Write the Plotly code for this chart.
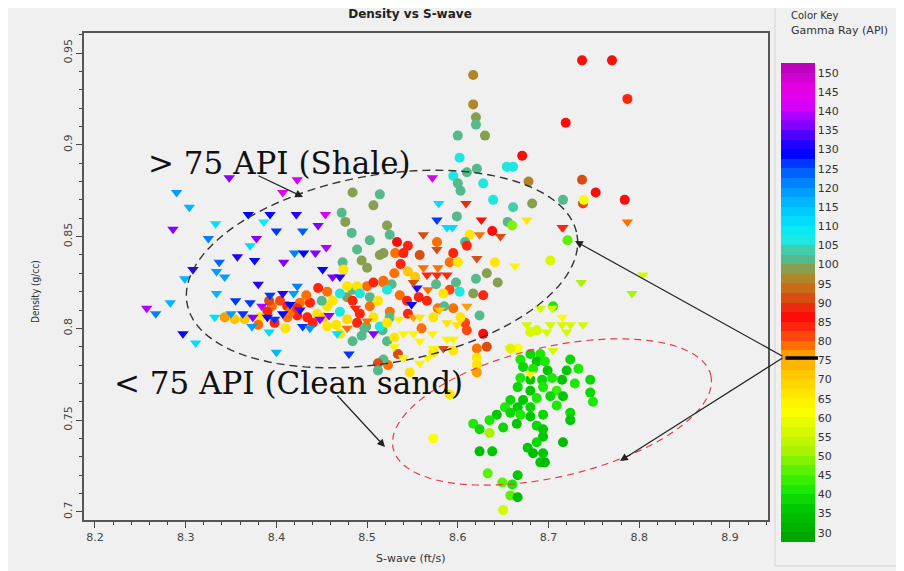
import numpy as np
import plotly.graph_objects as go

# ---------------- data (S-wave ft/s, Density g/cc, Gamma Ray API) ----------------
tri_x = [8.348, 8.423, 8.290, 8.407, 8.304, 8.369, 8.393, 8.422, 8.454, 8.333,
         8.386, 8.446, 8.286, 8.400, 8.429, 8.325, 8.378, 8.371, 8.455, 8.357,
         8.420, 8.430, 8.443, 8.376, 8.408, 8.337, 8.308, 8.334, 8.451, 8.343,
         8.299, 8.462, 8.470, 8.380, 8.423, 8.334, 8.283, 8.371, 8.393, 8.407,
         8.419, 8.257, 8.267, 8.332, 8.350, 8.374, 8.390, 8.297, 8.311, 8.400,
         8.480, 8.373, 8.407, 8.429, 8.448, 8.398, 8.467, 8.478, 8.507, 8.426,
         8.384, 8.363, 8.572, 8.579, 8.609, 8.577, 8.588, 8.594, 8.626, 8.676,
         8.715, 8.624, 8.562, 8.647, 8.577, 8.621, 8.562, 8.578, 8.566, 8.577,
         8.588, 8.663, 8.555, 8.551, 8.567, 8.549, 8.610, 8.580, 8.551, 8.558,
         8.599, 8.588, 8.572, 8.540, 8.551, 8.588, 8.595, 8.584, 8.573, 8.558,
         8.540, 8.567, 8.558, 8.691, 8.704, 8.715, 8.702, 8.715, 8.724, 8.676,
         8.738, 8.698, 8.720, 8.705, 8.658, 8.787, 8.716, 8.804, 8.792, 8.736,
         8.680, 8.415, 8.437, 8.458, 8.392, 8.355, 8.487, 8.500, 8.535, 8.530]
tri_y = [0.882, 0.881, 0.874, 0.874, 0.866, 0.862, 0.862, 0.862, 0.862, 0.857,
         0.858, 0.856, 0.854, 0.853, 0.853, 0.849, 0.849, 0.845, 0.844, 0.839,
         0.841, 0.841, 0.841, 0.837, 0.836, 0.836, 0.832, 0.831, 0.832, 0.828,
         0.827, 0.828, 0.828, 0.824, 0.823, 0.819, 0.814, 0.814, 0.818, 0.819,
         0.819, 0.811, 0.808, 0.806, 0.808, 0.806, 0.806, 0.797, 0.792, 0.787,
         0.786, 0.801, 0.808, 0.801, 0.805, 0.805, 0.797, 0.800, 0.797, 0.810,
         0.812, 0.808, 0.882, 0.868, 0.868, 0.859, 0.855, 0.855, 0.859, 0.859,
         0.855, 0.851, 0.851, 0.850, 0.843, 0.838, 0.833, 0.833, 0.829, 0.829,
         0.829, 0.834, 0.822, 0.825, 0.821, 0.813, 0.812, 0.810, 0.806, 0.806,
         0.802, 0.803, 0.797, 0.797, 0.797, 0.794, 0.794, 0.789, 0.789, 0.793,
         0.784, 0.784, 0.781, 0.811, 0.811, 0.806, 0.802, 0.802, 0.802, 0.802,
         0.802, 0.798, 0.798, 0.788, 0.789, 0.858, 0.855, 0.829, 0.819, 0.825,
         0.775, 0.813, 0.800, 0.807, 0.798, 0.815, 0.811, 0.804, 0.805, 0.790]
tri_gr = [137, 142, 118, 143, 117, 128, 128, 130, 140, 110,
          109, 137, 135, 125, 124, 122, 137, 110, 138, 130,
          122, 128, 135, 128, 136, 124, 130, 118, 128, 118,
          116, 135, 130, 130, 120, 117, 117, 125, 125, 130,
          118, 138, 122, 110, 118, 137, 128, 128, 110, 117,
          125, 118, 128, 126, 137, 125, 112, 78, 136, 130,
          138, 125, 142, 110, 88, 125, 110, 110, 85, 65,
          84, 78, 92, 92, 92, 92, 78, 78, 84, 84,
          84, 63, 130, 92, 78, 128, 76, 72, 76, 66,
          66, 65, 64, 64, 64, 64, 64, 92, 64, 64,
          64, 64, 64, 57, 57, 60, 57, 57, 57, 57,
          57, 57, 57, 57, 57, 78, 84, 55, 52, 52,
          64, 128, 118, 137, 110, 125, 84, 78, 64, 64]

circ_x = [8.737, 8.770, 8.787, 8.719, 8.671, 8.737, 8.752, 8.738, 8.784, 8.739,
          8.716, 8.721, 8.617, 8.617, 8.620, 8.620, 8.600, 8.630, 8.602, 8.621,
          8.654, 8.661, 8.595, 8.610, 8.600, 8.603, 8.628, 8.678, 8.639, 8.661,
          8.682, 8.599, 8.655, 8.660, 8.638, 8.613, 8.484, 8.472, 8.476, 8.483,
          8.473, 8.474, 8.489, 8.494, 8.500, 8.514, 8.484, 8.478, 8.484, 8.494,
          8.499, 8.507, 8.514, 8.522, 8.503, 8.525, 8.533, 8.545, 8.518, 8.531,
          8.540, 8.558, 8.577, 8.608, 8.610, 8.595, 8.545, 8.591, 8.600, 8.641,
          8.632, 8.644, 8.620, 8.598, 8.576, 8.591, 8.602, 8.617, 8.628, 8.584,
          8.557, 8.527, 8.518, 8.522, 8.536, 8.544, 8.578, 8.595, 8.525, 8.545,
          8.525, 8.624, 8.608, 8.610, 8.628, 8.573, 8.517, 8.621, 8.632, 8.621,
          8.534, 8.547, 8.621, 8.621, 8.523, 8.518, 8.512, 8.512, 8.702, 8.687,
          8.666, 8.658, 8.680, 8.705, 8.573, 8.595, 8.591, 8.573, 8.354, 8.412,
          8.426, 8.437, 8.404, 8.412, 8.423, 8.434, 8.445, 8.456, 8.462, 8.470,
          8.478, 8.489, 8.492, 8.503, 8.507, 8.514, 8.522, 8.456, 8.522, 8.500,
          8.507, 8.518, 8.489, 8.484, 8.492, 8.503, 8.470, 8.478, 8.456, 8.450,
          8.415, 8.395, 8.390, 8.423, 8.365, 8.382, 8.343,
          8.398, 8.410, 8.440, 8.452, 8.466, 8.380, 8.392, 8.433, 8.446, 8.497,
          8.470, 8.512, 8.530, 8.537, 8.553, 8.566, 8.585, 8.603, 8.560, 8.530,
          8.669, 8.680, 8.691, 8.687, 8.696, 8.672, 8.683, 8.699, 8.724, 8.733,
          8.720, 8.746, 8.729, 8.715, 8.704, 8.693, 8.680, 8.669, 8.666, 8.680,
          8.694, 8.709, 8.746, 8.749, 8.716, 8.702, 8.687, 8.672, 8.658, 8.652,
          8.666, 8.680, 8.709, 8.724, 8.724, 8.694, 8.680, 8.669, 8.658, 8.643,
          8.635, 8.650, 8.665, 8.687, 8.694, 8.617, 8.624, 8.635, 8.694, 8.687,
          8.677, 8.716, 8.694, 8.683, 8.691, 8.696, 8.624, 8.638, 8.633, 8.649,
          8.666, 8.660, 8.658, 8.666, 8.650]
circ_y = [0.946, 0.946, 0.925, 0.912, 0.894, 0.881, 0.874, 0.868, 0.870, 0.870,
          0.870, 0.848, 0.938, 0.922, 0.915, 0.911, 0.905, 0.905, 0.893, 0.887,
          0.888, 0.888, 0.883, 0.885, 0.879, 0.875, 0.879, 0.880, 0.870, 0.866,
          0.868, 0.861, 0.858, 0.856, 0.853, 0.851, 0.874, 0.863, 0.858, 0.852,
          0.836, 0.832, 0.843, 0.837, 0.833, 0.840, 0.821, 0.817, 0.793, 0.796,
          0.801, 0.867, 0.873, 0.856, 0.848, 0.851, 0.847, 0.845, 0.841, 0.841,
          0.841, 0.840, 0.847, 0.847, 0.845, 0.841, 0.831, 0.836, 0.836, 0.836,
          0.830, 0.825, 0.827, 0.825, 0.824, 0.821, 0.820, 0.819, 0.818, 0.819,
          0.817, 0.824, 0.825, 0.821, 0.818, 0.815, 0.811, 0.811, 0.809, 0.808,
          0.806, 0.807, 0.803, 0.799, 0.797, 0.806, 0.799, 0.789, 0.790, 0.784,
          0.786, 0.776, 0.780, 0.776, 0.780, 0.783, 0.781, 0.777, 0.837, 0.799,
          0.789, 0.789, 0.798, 0.812, 0.787, 0.788, 0.764, 0.740, 0.805, 0.806,
          0.814, 0.814, 0.815, 0.812, 0.807, 0.806, 0.808, 0.812, 0.815, 0.809,
          0.805, 0.803, 0.808, 0.812, 0.806, 0.801, 0.803, 0.801, 0.793, 0.823,
          0.825, 0.826, 0.823, 0.815, 0.819, 0.817, 0.819, 0.823, 0.820, 0.815,
          0.809, 0.812, 0.809, 0.811, 0.805, 0.806, 0.806,
          0.803, 0.800, 0.803, 0.806, 0.802, 0.802, 0.815, 0.818, 0.822, 0.800,
          0.797, 0.815, 0.830, 0.835, 0.828, 0.815, 0.812, 0.806, 0.800, 0.795,
          0.783, 0.786, 0.786, 0.782, 0.782, 0.779, 0.778, 0.777, 0.783, 0.778,
          0.777, 0.772, 0.770, 0.772, 0.773, 0.772, 0.772, 0.773, 0.768, 0.766,
          0.768, 0.766, 0.765, 0.760, 0.763, 0.763, 0.762, 0.761, 0.761, 0.757,
          0.757, 0.757, 0.758, 0.754, 0.750, 0.753, 0.752, 0.753, 0.754, 0.753,
          0.750, 0.746, 0.748, 0.747, 0.745, 0.748, 0.745, 0.743, 0.741, 0.738,
          0.735, 0.738, 0.732, 0.732, 0.727, 0.727, 0.733, 0.733, 0.721, 0.716,
          0.720, 0.715, 0.709, 0.708, 0.701]
circ_gr = [85, 85, 84, 85, 85, 92, 87, 90, 86, 62,
           100, 45, 96, 96, 98, 102, 102, 99, 106, 102,
           107, 107, 107, 102, 102, 102, 107, 95, 106, 104,
           98, 102, 100, 48, 85, 65, 98, 102, 98, 102,
           102, 65, 102, 98, 98, 98, 102, 98, 102, 102,
           98, 98, 102, 98, 100, 102, 85, 84, 98, 78,
           84, 90, 78, 102, 84, 84, 70, 78, 66, 65,
           98, 98, 102, 102, 102, 82, 107, 98, 84, 65,
           84, 102, 78, 107, 78, 84, 78, 78, 78, 84,
           102, 102, 80, 82, 85, 65, 102, 78, 90, 65,
           90, 65, 65, 76, 78, 102, 90, 102, 55, 55,
           60, 65, 55, 42, 65, 65, 65, 62, 72, 78,
           78, 84, 82, 84, 84, 84, 66, 66, 66, 107,
           68, 84, 84, 78, 66, 107, 66, 66, 102, 78,
           84, 78, 66, 84, 107, 102, 107, 66, 78, 102,
           78, 78, 84, 84, 72, 66, 75,
           84, 66, 84, 72, 66, 78, 90, 78, 84, 102,
           66, 66, 78, 84, 72, 84, 102, 66, 78, 66,
           40, 38, 40, 36, 42, 38, 40, 36, 38, 40,
           36, 38, 40, 36, 42, 38, 36, 40, 38, 36,
           40, 44, 38, 40, 36, 38, 40, 36, 38, 40,
           36, 38, 42, 38, 36, 38, 36, 40, 38, 36,
           40, 38, 36, 38, 36, 40, 38, 50, 36, 38,
           36, 34, 36, 34, 36, 34, 34, 36, 46, 46,
           36, 40, 45, 34, 57]

cbar_ticks = list(range(30, 155, 5))
x_ticks = [8.2, 8.3, 8.4, 8.5, 8.6, 8.7, 8.8, 8.9]
y_ticks = [0.7, 0.75, 0.8, 0.85, 0.9, 0.95]

# ---------------- colour scale (banded, like the Color Key) ----------------
GR_MIN, GR_MAX = 27.5, 152.5
anchors = [(27.5, "#00a000"), (32, "#00b400"), (37, "#00cc00"), (42, "#20ee00"),
           (47, "#66f200"), (52, "#b4f400"), (57, "#dcfa00"), (62, "#ffff00"),
           (67, "#ffe000"), (72, "#ffc400"), (76, "#ffa000"), (79, "#ff6a00"),
           (82, "#ff3a10"), (86, "#ff0a0a"), (90, "#e03a10"), (93, "#d06414"),
           (96, "#b48424"), (98.5, "#8c9c48"), (101, "#56b888"), (104, "#40d0b0"),
           (107, "#10f0f0"), (112, "#00d8ff"), (117, "#00b0ff"), (121, "#0084ff"),
           (125, "#0050ff"), (129, "#0000ff"), (133, "#4000ff"), (136, "#8000ff"),
           (139, "#b400ff"), (142, "#e000f4"), (146, "#e400e4"), (152.5, "#b400b4")]


def hex_rgb(h):
    return np.array([int(h[i:i + 2], 16) for i in (1, 3, 5)], dtype=float)


def col_at(v):
    for (v0, c0), (v1, c1) in zip(anchors[:-1], anchors[1:]):
        if v0 <= v <= v1:
            f = (v - v0) / (v1 - v0)
            c = hex_rgb(c0) * (1 - f) + hex_rgb(c1) * f
            return "rgb(%d,%d,%d)" % tuple(np.round(c))
    return anchors[-1][1]


colorscale = []
step = 2.5
b = GR_MIN
while b < GR_MAX - 1e-9:
    c = col_at(b + step / 2)
    colorscale.append([(b - GR_MIN) / (GR_MAX - GR_MIN), c])
    colorscale.append([min(1.0, (b + step - GR_MIN) / (GR_MAX - GR_MIN)), c])
    b += step

# ---------------- figure ----------------
OFF = 8                      # page body margin of the html page
W, H = 904 - OFF, 571 - OFF
L, R, T, B = 84, 768, 33, 520   # plot area in page pixels


def pxp(xp):
    return (xp - L) / (R - L)


def pyp(yp):
    return (B - yp) / (B - T)


fig = go.Figure()
fig.add_trace(go.Scatter(
    x=circ_x, y=circ_y, mode="markers",
    marker=dict(symbol="circle", size=10, color=circ_gr, coloraxis="coloraxis",
                line=dict(width=0)),
    showlegend=False, hoverinfo="skip"))
fig.add_trace(go.Scatter(
    x=tri_x, y=tri_y, mode="markers",
    marker=dict(symbol="triangle-down", size=10, color=tri_gr, coloraxis="coloraxis",
                line=dict(width=0)),
    showlegend=False, hoverinfo="skip"))

tick_font = dict(family="DejaVu Sans", size=11, color="#444444")

fig.update_layout(
    width=W, height=H,
    paper_bgcolor="#f0f0f0", plot_bgcolor="#f0f0f0",
    margin=dict(l=L - OFF, r=W - (R - OFF), t=T - OFF, b=H - (B - OFF), autoexpand=False),
    title=dict(text="<b>Density vs S-wave</b>", x=(410 - OFF) / W, xanchor="center",
               y=1 - (14 - OFF) / H, yanchor="middle",
               font=dict(family="DejaVu Sans", size=12, color="#222222")),
    coloraxis=dict(
        colorscale=colorscale, cmin=GR_MIN, cmax=GR_MAX,
        colorbar=dict(
            xref="container", yref="container",
            x=(781 - OFF) / W, xanchor="left", y=1 - 64 / H, yanchor="top",
            lenmode="pixels", len=479, thickness=34, xpad=0, ypad=0,
            outlinewidth=0, tickvals=cbar_ticks, ticks="",
            tickfont=dict(family="DejaVu Sans", size=11, color="#333333"),
        ),
    ),
    xaxis=dict(range=[8.1879, 8.942], tickvals=x_ticks, ticks="outside", ticklen=6,
               tickcolor="#444444", showgrid=False, zeroline=False, showline=True,
               linecolor="#555555", linewidth=1.5, mirror=True, tickfont=tick_font,
               minor=dict(dtick=0.02, tick0=8.2, ticks="outside", ticklen=3,
                          tickcolor="#444444")),
    yaxis=dict(range=[0.6956, 0.9609], tickvals=y_ticks, ticktext=[str(v) for v in y_ticks],
               ticks="outside", ticklen=6, tickangle=-90,
               tickcolor="#444444", showgrid=False, zeroline=False, showline=True,
               linecolor="#555555", linewidth=1.5, mirror=True, tickfont=tick_font,
               minor=dict(dtick=0.01, tick0=0.7, ticks="outside", ticklen=3,
                          tickcolor="#444444")),
)


# ellipses (dashed outlines)
def ellipse_path(cx, cy, a, bb, ang_deg, n=120):
    t = np.linspace(0, 2 * np.pi, n)
    th = np.deg2rad(ang_deg)
    xs = cx + a * np.cos(t) * np.cos(th) + bb * np.sin(t) * np.sin(th)
    ys = cy - a * np.cos(t) * np.sin(th) + bb * np.sin(t) * np.cos(th)
    pts = ["%.5f,%.5f" % (pxp(x), pyp(y)) for x, y in zip(xs, ys)]
    return "M " + " L ".join(pts) + " Z"


fig.add_shape(type="path", path=ellipse_path(382, 269, 198, 94, 10),
              xref="paper", yref="paper",
              line=dict(color="#333333", width=1.4, dash="8px,5px"))
fig.add_shape(type="path", path=ellipse_path(552, 412, 163, 65, 13),
              xref="paper", yref="paper",
              line=dict(color="#e0404e", width=1.2, dash="7px,5px"))

# right panel border lines
fig.add_shape(type="line", xref="paper", yref="paper",
              x0=pxp(775), x1=pxp(775), y0=pyp(0), y1=pyp(566),
              line=dict(color="#d4d4d4", width=1))
fig.add_shape(type="line", xref="paper", yref="paper",
              x0=pxp(775), x1=pxp(904), y0=pyp(566), y1=pyp(566),
              line=dict(color="#d4d4d4", width=1))

# marker line on the colour key at 75 (drawn as an annotation so it sits above the bar)
fig.add_annotation(x=pxp(818), y=pyp(358), xref="paper", yref="paper",
                   ax=-34, ay=0, axref="pixel", ayref="pixel", text="",
                   showarrow=True, arrowhead=0, arrowwidth=3.5, arrowcolor="#000000")

# arrows
arrows = [((575, 241), (784, 357)), ((620, 461), (784, 357)),
          ((303, 197), (257, 175)), ((385, 447), (336, 394))]
for (hx, hy), (tx_, ty_) in arrows:
    fig.add_annotation(x=pxp(hx), y=pyp(hy), xref="paper", yref="paper",
                       ax=tx_ - hx, ay=ty_ - hy, axref="pixel", ayref="pixel",
                       text="", showarrow=True, arrowhead=2, arrowsize=1.3,
                       arrowwidth=1.2, arrowcolor="#222222")

# texts
serif = dict(family="DejaVu Serif", size=31, color="#111111")
fig.add_annotation(x=pxp(146), y=pyp(163), xref="paper", yref="paper",
                   text="&gt; 75 API (Shale)", showarrow=False, xanchor="left",
                   yanchor="middle", font=serif)
fig.add_annotation(x=pxp(112), y=pyp(383), xref="paper", yref="paper",
                   text="&lt; 75 API (Clean sand)", showarrow=False, xanchor="left",
                   yanchor="middle", font=serif)

small = dict(family="DejaVu Sans", size=11, color="#333333")
fig.add_annotation(x=pxp(789), y=pyp(16), xref="paper", yref="paper",
                   text="Color Key", showarrow=False, xanchor="left", yanchor="middle",
                   font=dict(family="DejaVu Sans", size=10, color="#333333"))
fig.add_annotation(x=pxp(789), y=pyp(30), xref="paper", yref="paper",
                   text="Gamma Ray (API)", showarrow=False, xanchor="left",
                   yanchor="middle", font=small)

# axis titles
fig.add_annotation(x=pxp(410), y=pyp(558), xref="paper", yref="paper",
                   text="S-wave (ft/s)", showarrow=False, xanchor="center",
                   yanchor="middle", font=dict(family="DejaVu Sans", size=11, color="#333333"))
fig.add_annotation(x=pxp(35), y=pyp(292), xref="paper", yref="paper",
                   text="Density (g/cc)", showarrow=False, textangle=-90,
                   xanchor="center", yanchor="middle",
                   font=dict(family="DejaVu Sans Condensed, DejaVu Sans", size=10, color="#333333"))

fig.write_html("out.html")
